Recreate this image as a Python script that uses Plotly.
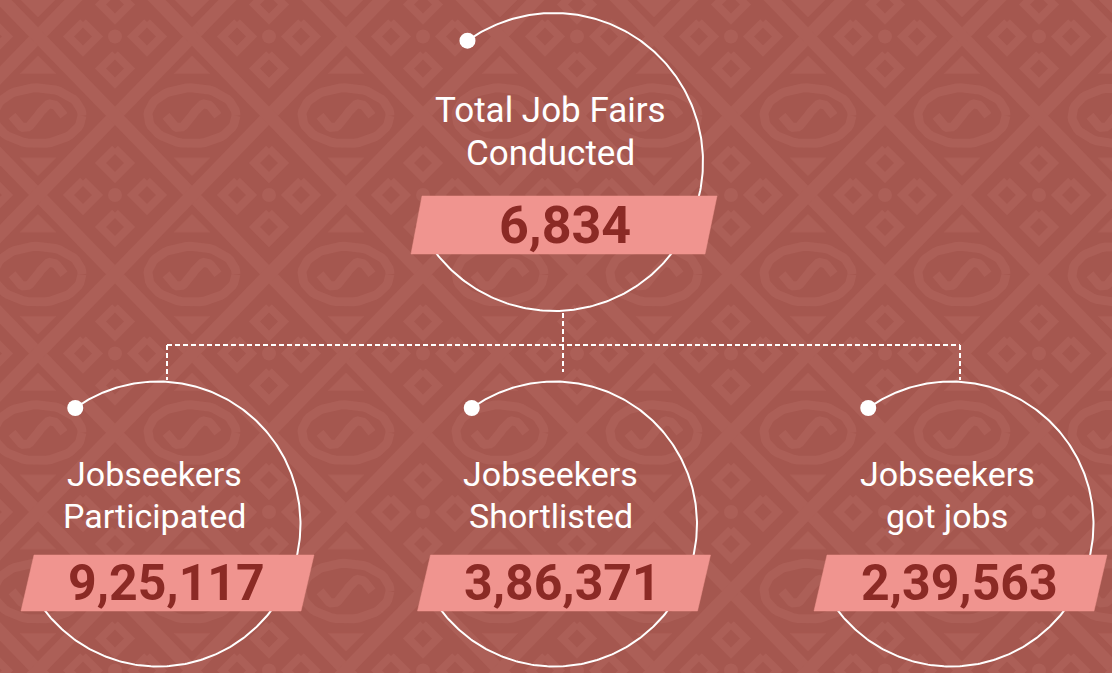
import numpy as np
import plotly.graph_objects as go

# ---------------- data ----------------
titles = ["Total Job Fairs\nConducted",
          "Jobseekers\nParticipated",
          "Jobseekers\nShortlisted",
          "Jobseekers\ngot jobs"]
values = [6834, 925117, 386371, 239563]

# ---------------- style / layout ----------------
W, H = 1112, 673
BG = "#a5574f"
PAT = "#ac5f57"
BANNER = "#f0948f"
NUM = "#8b2a25"
WHITE = "#ffffff"

# node geometry: centre x, centre y, radius, banner corners (dx,dy), label ys, number y
nodes = [
    dict(cx=554, cy=162, r=149,
         banner=[(-132, 34), (163, 34), (151, 92), (-143, 92)],
         label_dy=[-52, -9], num_dx=11, num_dy=63, end=-152,
         lsize=35, nsize=52),
    dict(cx=158, cy=524, r=142.5,
         banner=[(-124, 31), (156, 31), (143, 87), (-137, 87)],
         label_dy=[-50, -8], num_dx=8, num_dy=59, end=-150,
         lsize=34, nsize=50),
    dict(cx=554.5, cy=524, r=142.5,
         banner=[(-124, 31), (156, 31), (143, 87), (-137, 87)],
         label_dy=[-50, -8], num_dx=8, num_dy=59, end=-150,
         lsize=34, nsize=50),
    dict(cx=951, cy=524, r=142.5,
         banner=[(-124, 31), (156, 31), (143, 87), (-137, 87)],
         label_dy=[-50, -8], num_dx=8, num_dy=59, end=-150,
         lsize=34, nsize=50),
]


def indian_format(n):
    s = str(n)
    if len(s) <= 3:
        return s
    last3, rest = s[-3:], s[:-3]
    groups = []
    while len(rest) > 2:
        groups.insert(0, rest[-2:])
        rest = rest[:-2]
    if rest:
        groups.insert(0, rest)
    return ",".join(groups + [last3])


fig = go.Figure()

# ---------------- background pattern ----------------
P, Q = 77.0, 79.25
ox, oy = 115.0, 195.0


def uv(u, v):
    return ox + u * P, oy + v * Q


lx, ly = [], []
for c in range(-15, 27, 2):
    x0, y0 = uv(c - 5, -5)
    x1, y1 = uv(c + 12, 12)
    lx += [x0, x1, None]
    ly += [y0, y1, None]
    x0, y0 = uv(c + 5, -5)
    x1, y1 = uv(c - 12, 12)
    lx += [x0, x1, None]
    ly += [y0, y1, None]
fig.add_trace(go.Scatter(x=lx, y=ly, mode="lines",
                         line=dict(color=PAT, width=13), hoverinfo="skip"))

dx_, dy_, cdx, cdy = [], [], [], []
tx, ty = [], []
px_, py_ = [], []
for u in range(-4, 18):
    for v in range(-4, 8):
        x, y = uv(u, v)
        if u % 2 == 0 and v % 2 == 0:
            cdx.append(x)
            cdy.append(y)
            for ddx, ddy in [(0, -32), (0, 32), (-32, 0), (32, 0)]:
                sx, sy = x + ddx, y + ddy
                d = 14.5
                dx_ += [sx, sx + d, sx, sx - d, sx, None]
                dy_ += [sy - d, sy, sy + d, sy, sy - d, None]
        elif u % 2 != 0 and v % 2 != 0:
            tx += [x - 18, x + 18, x, x - 18, None]
            ty += [y + 42, y + 42, y + 60, y + 42, None]
            tx += [x - 18, x + 18, x, x - 18, None]
            ty += [y - 42, y - 42, y - 60, y - 42, None]
            t = np.linspace(0, 2 * np.pi, 60)
            px_ += list(x + 44 * np.cos(t)) + [None]
            py_ += list(y + 28 * np.sin(t)) + [None]
            s = np.linspace(-1, 1, 30)
            px_ += list(x + 26 * s) + [None]
            py_ += list(y - 12 * np.sin(np.pi * s)) + [None]

fig.add_trace(go.Scatter(x=dx_, y=dy_, mode="lines",
                         line=dict(color=PAT, width=8), hoverinfo="skip"))
fig.add_trace(go.Scatter(x=cdx, y=cdy, mode="markers",
                         marker=dict(color=PAT, size=14, line=dict(width=0)),
                         hoverinfo="skip"))
fig.add_trace(go.Scatter(x=tx, y=ty, mode="lines", fill="toself",
                         fillcolor=PAT, line=dict(color=PAT, width=0.5),
                         hoverinfo="skip"))
fig.add_trace(go.Scatter(x=px_, y=py_, mode="lines",
                         line=dict(color=PAT, width=9), hoverinfo="skip"))

# ---------------- dotted connectors ----------------
conn_x = [563, 563, None, 167, 960, None, 167, 167, None, 960, 960, None]
conn_y = [313, 372, None, 345, 345, None, 345, 380, None, 345, 380, None]
fig.add_trace(go.Scatter(x=conn_x, y=conn_y, mode="lines",
                         line=dict(color=WHITE, width=2, dash="5px,3px"),
                         hoverinfo="skip"))

# ---------------- circles, dots, banners ----------------
ax, ay, dotx, doty, bx, by = [], [], [], [], [], []
for n in nodes:
    th = np.radians(np.linspace(125.5, n["end"], 300))
    ax += list(n["cx"] + n["r"] * np.cos(th)) + [None]
    ay += list(n["cy"] - n["r"] * np.sin(th)) + [None]
    dotx.append(n["cx"] + n["r"] * np.cos(np.radians(125.5)))
    doty.append(n["cy"] - n["r"] * np.sin(np.radians(125.5)))
    pts = n["banner"] + [n["banner"][0]]
    bx += [n["cx"] + p[0] for p in pts] + [None]
    by += [n["cy"] + p[1] for p in pts] + [None]

fig.add_trace(go.Scatter(x=ax, y=ay, mode="lines",
                         line=dict(color=WHITE, width=2), hoverinfo="skip"))
fig.add_trace(go.Scatter(x=dotx, y=doty, mode="markers",
                         marker=dict(color=WHITE, size=16, line=dict(width=0)),
                         hoverinfo="skip"))
fig.add_trace(go.Scatter(x=bx, y=by, mode="lines", fill="toself",
                         fillcolor=BANNER, line=dict(color=BANNER, width=0.5),
                         hoverinfo="skip"))

# ---------------- texts ----------------
ann = []
for n, title, val in zip(nodes, titles, values):
    for line, ddy in zip(title.split("\n"), n["label_dy"]):
        ann.append(dict(x=n["cx"] - 4, y=n["cy"] + ddy, xref="x", yref="y",
                        text=line, showarrow=False, xanchor="center",
                        yanchor="middle",
                        font=dict(family="Roboto", size=n["lsize"], color=WHITE)))
    ann.append(dict(x=n["cx"] + n["num_dx"], y=n["cy"] + n["num_dy"],
                    xref="x", yref="y",
                    text="<b>" + indian_format(val) + "</b>", showarrow=False,
                    xanchor="center", yanchor="middle",
                    font=dict(family="Roboto", size=n["nsize"], color=NUM)))

fig.update_layout(
    width=W, height=H,
    margin=dict(l=0, r=0, t=0, b=0, pad=0),
    paper_bgcolor=BG, plot_bgcolor=BG,
    showlegend=False,
    xaxis=dict(range=[0, W], visible=False, fixedrange=True),
    yaxis=dict(range=[H, 0], visible=False, fixedrange=True),
    annotations=ann,
    hovermode=False,
)

fig.write_html("out.html", config={"displayModeBar": False},
               post_script="document.body.style.margin='0';")
